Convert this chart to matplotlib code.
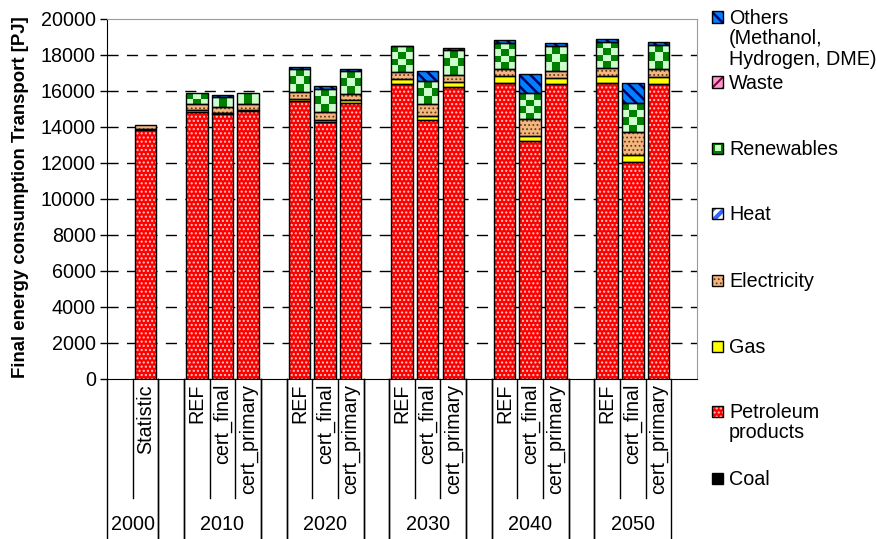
import numpy as np
import matplotlib
matplotlib.use("Agg")
import matplotlib.pyplot as plt
from matplotlib.colors import ListedColormap
from matplotlib.patches import Rectangle
import matplotlib.transforms as mtransforms

plt.rcParams['font.family'] = ['Liberation Sans', 'DejaVu Sans']

# Category axis: scenario labels and the year group each slot belongs to
categories = ['', 'Statistic', '',
              'REF', 'cert_final', 'cert_primary', '',
              'REF', 'cert_final', 'cert_primary', '',
              'REF', 'cert_final', 'cert_primary', '',
              'REF', 'cert_final', 'cert_primary', '',
              'REF', 'cert_final', 'cert_primary', '']
groups = [('2000', 0, 1), ('', 2, 2), ('2010', 3, 5), ('', 6, 6),
          ('2020', 7, 9), ('', 10, 10), ('2030', 11, 13), ('', 14, 14),
          ('2040', 15, 17), ('', 18, 18), ('2050', 19, 21)]

# Final energy consumption by carrier [PJ], one value per bar
coal =        [0, 0, 0, 0, 0, 0, 0, 0, 0, 0, 0, 0, 0, 0, 0, 0]
petroleum =   [13830, 14850, 14750, 14880, 15440, 14260, 15310, 16390,
               14390, 16240, 16460, 13220, 16370, 16430, 12070, 16390]
gas =         [50, 80, 50, 60, 100, 130, 190, 280, 240, 240, 370, 300,
               370, 420, 370, 410]
electricity = [230, 330, 330, 340, 390, 420, 310, 370, 630, 410, 390, 920,
               390, 410, 1260, 400]
heat =        [0, 0, 0, 0, 0, 0, 0, 0, 0, 0, 0, 0, 0, 0, 0, 0]
renewables =  [0, 610, 550, 590, 1310, 1300, 1300, 1450, 1310, 1400, 1470,
               1430, 1390, 1480, 1650, 1360]
waste =       [0, 0, 0, 0, 0, 0, 0, 0, 0, 0, 0, 0, 0, 0, 0, 0]
others =      [0, 0, 80, 0, 70, 190, 90, 30, 540, 80, 140, 1050, 160, 170,
               1080, 140]

legend_labels = ['Others\n(Methanol,\nHydrogen, DME)', 'Waste', 'Renewables',
                 'Heat', 'Electricity', 'Gas', 'Petroleum\nproducts', 'Coal']

yticks = list(range(0, 20001, 2000))

# style per carrier: (fill colour, hatch colour, hatch, hatch linewidth)
styles = {
    'coal': ('#000000', '#000000', None, 1.0),
    'petroleum': ('#FF0000', '#FFC8C8', '....', 1.0),
    'gas': ('#FFFF00', '#FFFF00', None, 1.0),
    'electricity': ('#F2B680', '#6B3A12', '....', 0.8),
    'heat': ('#FFFFFF', '#3366FF', '///', 3.0),
    'renewables': ('#CCFFCC', '#008000', None, 1.0),
    'waste': ('#FF99CC', '#800040', '///', 1.5),
    'others': ('#0080FF', '#000066', '\\\\\\', 1.8),
}
series = [('coal', coal), ('petroleum', petroleum), ('gas', gas),
          ('electricity', electricity), ('heat', heat),
          ('renewables', renewables), ('waste', waste), ('others', others)]

FS = 14.2
W, H = 876, 539
fig = plt.figure(figsize=(W / 100, H / 100), dpi=100)
ax = fig.add_axes([107 / W, 1 - 379 / H, 590 / W, 360 / H])

xpos = np.array([i for i, c in enumerate(categories) if c])
bw = 0.84
bottom = np.zeros(len(xpos))


def checker(ax, rect):
    x0, y0 = rect.get_x(), rect.get_y()
    w, h = rect.get_width(), rect.get_height()
    px_h = h * 360 / 20000
    nrows = max(1, int(round(px_h / 7.3)))
    ncols = 3
    board = (np.add.outer(np.arange(nrows), np.arange(ncols)) % 2)
    im = ax.imshow(board, cmap=ListedColormap(['#CCFFCC', '#008000']),
                   extent=(x0, x0 + w, y0, y0 + h), aspect='auto',
                   interpolation='nearest', origin='lower', zorder=2.5)
    im.set_clip_path(rect)


for name, vals in series:
    vals = np.array(vals, dtype=float)
    mask = vals > 0
    fill, hcol, hatch, hlw = styles[name]
    if mask.any():
        with plt.rc_context({'hatch.linewidth': hlw}):
            bars = ax.bar(xpos[mask], vals[mask], bw, bottom=bottom[mask],
                          color=fill, edgecolor=hcol, linewidth=0,
                          hatch=hatch, zorder=2)
        if name == 'renewables':
            for r in bars:
                checker(ax, r)
        ax.bar(xpos[mask], vals[mask], bw, bottom=bottom[mask],
               fill=False, edgecolor='black', linewidth=1.0, zorder=3)
    bottom = bottom + vals

ax.set_xlim(-0.5, len(categories) - 0.5)
ax.set_ylim(0, 20000)
ax.set_yticks(yticks)
ax.set_yticklabels([str(v) for v in yticks], fontsize=FS)
ax.tick_params(axis='y', direction='out', length=5, width=1, pad=3)
ax.set_xticks([])
for y in yticks[1:-1]:
    ax.axhline(y, color='black', linewidth=1, linestyle=(0, (8, 6)), zorder=1)
ax.spines['left'].set_color('black')
ax.spines['bottom'].set_color('black')
ax.spines['top'].set_color('#9A9A9A')
ax.spines['right'].set_color('#9A9A9A')

# category table under the axis
trans = mtransforms.blended_transform_factory(ax.transData, fig.transFigure)
short_bottom = 1 - 498 / H
for i, c in enumerate(categories):
    if c:
        ax.text(i, 1 - 384 / H, c, transform=trans, rotation=90, ha='center',
                va='top', fontsize=FS)
for label, a, b in groups:
    for edge in (a - 0.5, b + 0.5):
        ax.plot([edge, edge], [1 - 379 / H, 0], transform=trans,
                color='black', linewidth=1, clip_on=False)
    for k in range(a, b):
        ax.plot([k + 0.5, k + 0.5], [1 - 379 / H, short_bottom],
                transform=trans, color='black', linewidth=1, clip_on=False)
    if label:
        ax.text((a + b) / 2, 1 - 525 / H, label, transform=trans,
                ha='center', va='center', fontsize=FS)

fig.text(21 / W, 1 - 197 / H, 'Final energy consumption Transport [PJ]',
         rotation=90, ha='center', va='center', fontsize=13.4,
         fontweight='bold')

# legend, top entry first
legend_keys = ['others', 'waste', 'renewables', 'heat', 'electricity', 'gas',
               'petroleum', 'coal']
legend_y = [17, 82, 148, 213, 280, 346, 411, 478]
for key, lab, yc in zip(legend_keys, legend_labels, legend_y):
    fill, hcol, hatch, hlw = styles[key]
    s = 11
    with plt.rc_context({'hatch.linewidth': hlw}):
        p = Rectangle((712 / W, 1 - (yc + s / 2) / H), s / W, s / H,
                      transform=fig.transFigure, facecolor=fill,
                      edgecolor=hcol, linewidth=0, hatch=hatch)
    fig.add_artist(p)
    if key == 'renewables':
        fig.add_artist(Rectangle((714.5 / W, 1 - (yc + 3) / H), 6 / W, 6 / H,
                                 transform=fig.transFigure,
                                 facecolor='#CCFFCC', edgecolor='#008000',
                                 linewidth=0))
        p.set_facecolor('#008000')
    fig.add_artist(Rectangle((712 / W, 1 - (yc + s / 2) / H), s / W, s / H,
                             transform=fig.transFigure, fill=False,
                             edgecolor='black', linewidth=1))
    fig.text(729 / W, 1 - (yc - 8) / H, lab, ha='left', va='top',
             fontsize=FS, linespacing=1.1)

fig.savefig('out.png', dpi=100)
